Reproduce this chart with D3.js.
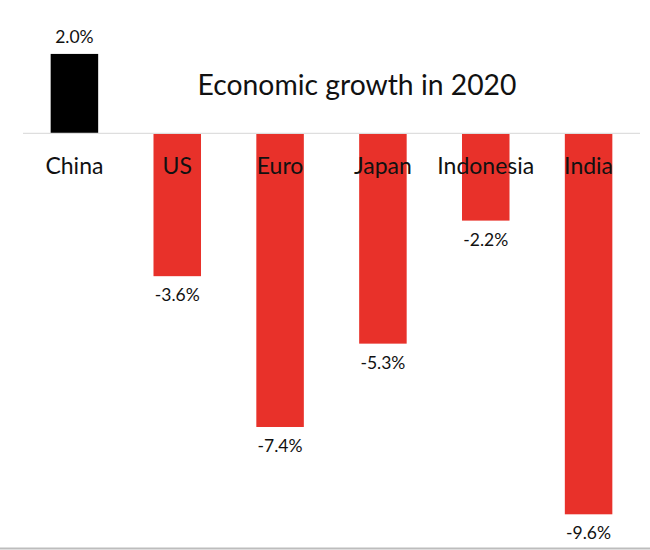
<!DOCTYPE html>
<html><head><meta charset="utf-8">
<script src="https://cdn.jsdelivr.net/npm/d3@7"></script>
<style>html,body{margin:0;padding:0;background:#fff;}svg{display:block;}</style>
</head><body>
<svg id="chart" width="650" height="550"></svg>
<script>
const categories = ["China", "US", "Euro", "Japan", "Indonesia", "India"];
const growth = [2.0, -3.6, -7.4, -5.3, -2.2, -9.6];
const valueLabels = ["2.0%", "-3.6%", "-7.4%", "-5.3%", "-2.2%", "-9.6%"];
const title = "Economic growth in 2020";

const svg = d3.select("#chart");
const font = "Lato, 'Noto Sans', sans-serif";
const data = categories.map((c, i) => ({c, v: growth[i], l: valueLabels[i]}));

const x = d3.scaleBand().domain(categories).range([23, 640]).paddingInner(0.538).paddingOuter(0.269);
const y = d3.scaleLinear().domain([0, -9.6]).range([133.3, 514.3]);

svg.append("rect").attr("width", 650).attr("height", 550).attr("fill", "#fff");

// bars
svg.selectAll("rect.bar").data(data).enter().append("rect")
  .attr("class", "bar")
  .attr("x", d => x(d.c))
  .attr("width", x.bandwidth())
  .attr("y", d => Math.min(y(d.v), y(0)))
  .attr("height", d => Math.abs(y(d.v) - y(0)))
  .attr("fill", d => d.v >= 0 ? "#000000" : "#e8312a");

// baseline
svg.append("line").attr("x1", 23).attr("x2", 640).attr("y1", y(0)).attr("y2", y(0))
  .attr("stroke", "#dedede").attr("stroke-width", 1.2);

// category labels
svg.selectAll("text.cat").data(data).enter().append("text")
  .attr("class", "cat")
  .attr("x", d => x(d.c) + x.bandwidth() / 2)
  .attr("y", 173.5)
  .attr("text-anchor", "middle")
  .attr("font-family", font).attr("font-size", 23).attr("fill", "#111")
  .text(d => d.c);

// value labels
svg.selectAll("text.val").data(data).enter().append("text")
  .attr("class", "val")
  .attr("x", d => x(d.c) + x.bandwidth() / 2)
  .attr("y", d => d.v >= 0 ? y(d.v) - 11 : y(d.v) + 25)
  .attr("text-anchor", "middle")
  .attr("font-family", font).attr("font-size", 17.5).attr("fill", "#111")
  .text(d => d.l);

// title
svg.append("text").attr("x", 357).attr("y", 95).attr("text-anchor", "middle")
  .attr("font-family", font).attr("font-size", 28.3).attr("fill", "#111")
  .text(title);

// bottom rule
svg.append("line").attr("x1", 0).attr("x2", 650).attr("y1", 548.5).attr("y2", 548.5)
  .attr("stroke", "#bdbdbd").attr("stroke-width", 2);
</script>
</body></html>
